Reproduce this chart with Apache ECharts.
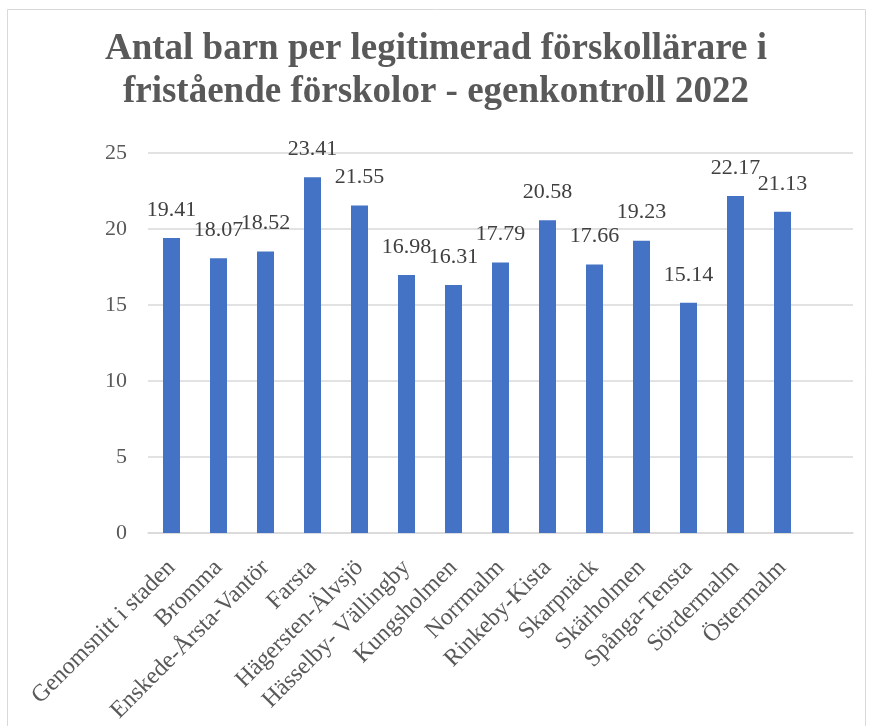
<!DOCTYPE html>
<html>
<head>
<meta charset="utf-8">
<script src="https://cdn.jsdelivr.net/npm/echarts@6/dist/echarts.min.js"></script>
<style>
html,body{margin:0;padding:0;background:#fff;}
#c{width:872px;height:726px;}
</style>
</head>
<body>
<div id="c"></div>
<script>
const titleText = 'Antal barn per legitimerad förskollärare i\nfristående förskolor - egenkontroll 2022';
const categories = ['Genomsnitt i staden','Bromma','Enskede-Årsta-Vantör','Farsta','Hägersten-Älvsjö','Hässelby- Vällingby','Kungsholmen','Norrmalm','Rinkeby-Kista','Skarpnäck','Skärholmen','Spånga-Tensta','Sördermalm','Östermalm',''];
const values = [19.41,18.07,18.52,23.41,21.55,16.98,16.31,17.79,20.58,17.66,19.23,15.14,22.17,21.13,null];
const yTicks = {min:0, max:25, interval:5};

const serif = "'Liberation Serif','Times New Roman',serif";
const chart = echarts.init(document.getElementById('c'), null, {renderer:'canvas'});
chart.setOption({
  animation:false,
  backgroundColor:'#fff',
  title:{
    text:titleText,
    left:'center',
    top:23,
    textStyle:{fontFamily:serif,fontSize:37,fontWeight:'bold',color:'#595959',lineHeight:43}
  },
  graphic:[{
    type:'rect',
    shape:{x:7.5,y:9.5,width:858,height:730},
    style:{fill:'none',stroke:'#d9d9d9',lineWidth:1},
    silent:true
  }],
  grid:{left:148,right:19,top:153,bottom:193,containLabel:false},
  xAxis:{
    type:'category',
    data:categories,
    axisLine:{show:true,lineStyle:{color:'#d9d9d9',width:1.5}},
    axisTick:{show:false},
    axisLabel:{rotate:45,interval:0,fontFamily:serif,fontSize:24,color:'#595959',margin:31}
  },
  yAxis:{
    type:'value',
    min:yTicks.min,max:yTicks.max,interval:yTicks.interval,
    axisLine:{show:false},
    axisTick:{show:false},
    splitLine:{lineStyle:{color:'#d9d9d9',width:1.5}},
    axisLabel:{fontFamily:serif,fontSize:22,color:'#595959',margin:21}
  },
  series:[{
    type:'bar',
    data:values,
    barWidth:17,
    itemStyle:{color:'#4472C4'},
    label:{show:true,position:'top',distance:17,fontFamily:serif,fontSize:22,color:'#404040',
      formatter:p=>p.value==null?'':p.value.toFixed(2)}
  }]
});
</script>
</body>
</html>
